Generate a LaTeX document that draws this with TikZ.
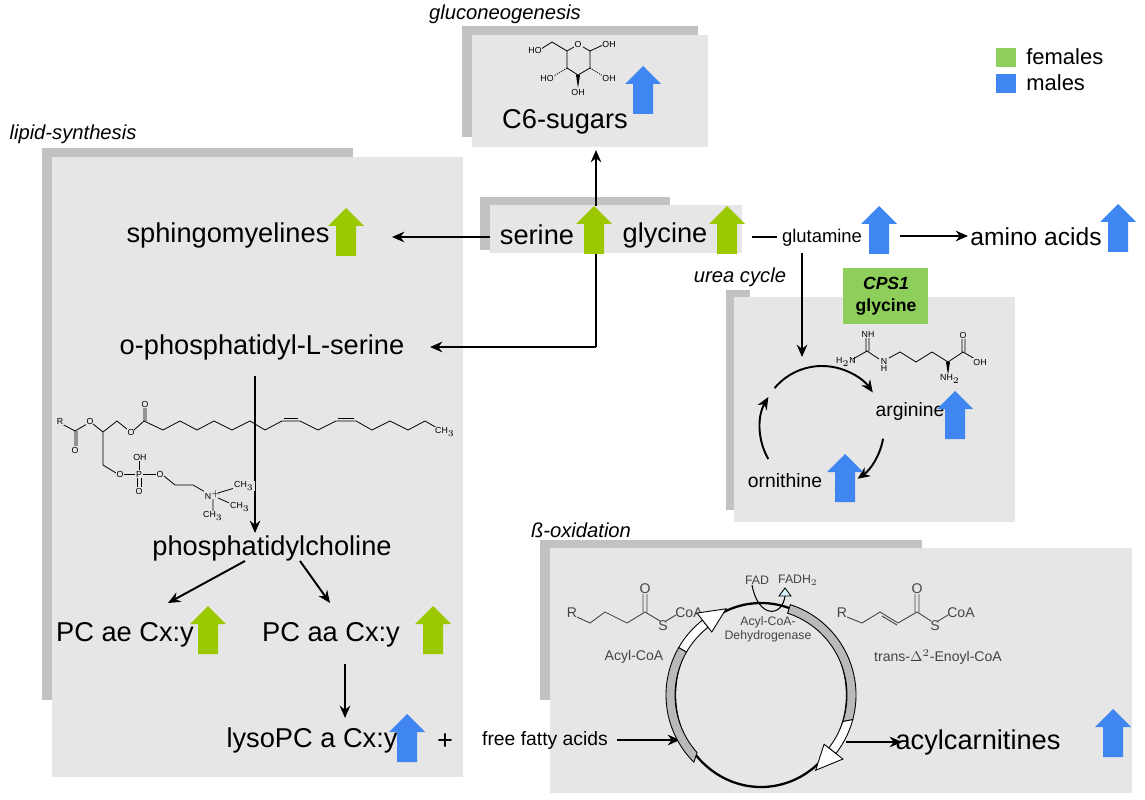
\documentclass[tikz,border=0pt]{standalone}
\usepackage{fontspec}
\setmainfont{Liberation Sans}
\usetikzlibrary{arrows.meta}
\definecolor{bx}{HTML}{E6E6E6}
\definecolor{sh}{HTML}{9A9A9A}
\definecolor{gA}{HTML}{9CC800}
\definecolor{bA}{HTML}{3F86F2}
\definecolor{lg}{HTML}{8DCF5A}
\definecolor{mg}{HTML}{444444}
\tikzset{
 big/.style={font=\fontsize{15.5}{17}\selectfont,inner sep=0pt},
 mid/.style={font=\fontsize{11}{13}\selectfont,inner sep=0pt},
 lab/.style={font=\fontsize{11.5}{13}\selectfont\itshape,inner sep=0pt},
 mol/.style={font=\fontsize{5}{6}\selectfont,inner sep=0.5pt,fill=bx},
 bmol/.style={font=\fontsize{8}{9}\selectfont,inner sep=0.5pt,text=mg},
 bond/.style={line width=0.45pt},
 gbond/.style={line width=0.5pt,draw=mg},
 conn/.style={line width=1.1pt,-{Stealth[length=7pt,width=6pt]}},
 pl/.style={line width=1.1pt},
 box/.style={fill=bx},
 shadow/.style={fill=sh,opacity=0.6},
 band/.style={line width=0.5pt,fill=gray!55},
 hollow/.style={line width=0.5pt,fill=white},
 uparr/.pic={\fill[#1] (-10,24)--(-10,-6)--(-18,-6)--(0,-24)--(18,-6)--(10,-6)--(10,24)--cycle;}
}
\begin{document}
\begin{tikzpicture}[x=0.02cm,y=-0.02cm]
\useasboundingbox (0,0) rectangle (1145,800);
% ----- boxes with shadows
\fill[shadow] (462,26) rectangle (698,137);
\fill[box] (472,35) rectangle (708,147);
\fill[shadow] (42,148) rectangle (353,700);
\fill[box] (52,157) rectangle (463,777);
\fill[shadow] (480,197) rectangle (670,250);
\fill[box] (490,205) rectangle (742,253);
\fill[shadow] (726,290) rectangle (750,510);
\fill[box] (734,297) rectangle (1015,522);
\fill[shadow] (540,540) rectangle (922,700);
\fill[box] (550,548) rectangle (1132,793);
% ----- labels
\node[lab] (lgn) at (505,14) {gluconeogenesis};
\node[lab] (lls) at (73,134) {lipid-synthesis};
\node[lab] (luc) at (740,277) {urea cycle};
\node[lab] (lbo) at (581,530) {ß-oxidation};
% ----- legend
\fill[lg] (996,48) rectangle (1016,67);
\fill[bA] (996,74) rectangle (1016,93);
\node[font=\fontsize{12.5}{14}\selectfont,anchor=west,inner sep=0pt] (lf) at (1026,57) {females};
\node[font=\fontsize{12.5}{14}\selectfont,anchor=west,inner sep=0pt] (lm) at (1026,83) {males};
% ----- glucose
\draw[bond] (552,42)--(567,51)--(574,47) (583,47)--(590,51)--(590,68)--(578,75)--(567,68)--(567,51);
\node[mol] (gO) at (578,44) {O};
\draw[bond] (552,42)--(541,49);
\node[mol] (gHO1) at (535,50) {HO};
\draw[bond] (590,51)--(603,45);
\node[mol] (gOH1) at (609,44) {OH};
\draw[bond,dash pattern=on 0.6pt off 0.6pt] (590,68)--(603,76);
\node[mol] (gOH2) at (609,78) {OH};
\fill (576,75)--(580,75)--(578,88)--cycle;
\node[mol] (gOH3) at (578,92) {OH};
\draw[bond,dash pattern=on 0.6pt off 0.6pt] (567,68)--(554,76);
\node[mol] (gHO2) at (547,78) {HO};
% ----- nodes
\node[big] (c6) at (565,122) {C6-sugars};
\pic at (643,90) {uparr=bA};
\node[big] (sph) at (228,235) {sphingomyelines};
\pic at (346,232) {uparr=gA};
\node[big] (ser) at (537,235) {serine};
\node[big] (gly) at (665,235) {glycine};
\node[font=\fontsize{10.5}{12}\selectfont,inner sep=0pt] (glu) at (822,238) {glutamine};
\pic at (879,230) {uparr=bA};
\node[big,font=\fontsize{14}{16}\selectfont] (aa) at (1036,237) {amino acids};
\pic at (1118,228) {uparr=bA};
\node[big] (ops) at (262,347) {o-phosphatidyl-L-serine};
\node[big] (pc) at (272,548) {phosphatidylcholine};
\node[big] (pcae) at (125,635) {PC ae Cx:y};
\pic at (208,630) {uparr=gA};
\node[big] (pcaa) at (331,635) {PC aa Cx:y};
\pic at (433,630) {uparr=gA};
\node[big] (lyso) at (312,740) {lysoPC a Cx:y};
\pic at (407,738) {uparr=bA};
\node[big] (plus) at (445,742) {+};
\node[mid] (ffa) at (545,740) {free fatty acids};
\node[big] (acyl) at (978,742) {acylcarnitines};
\pic at (1113,733) {uparr=bA};
% CPS1 box
\fill[lg] (843,268) rectangle (928,324);
\node[font=\fontsize{10}{12.5}\selectfont\bfseries,align=center,inner sep=0pt] (cpst) at (886,296) {\textit{CPS1}\\glycine};
% ----- connectors
\coordinate (sTop) at (596,206);
\coordinate (sBot) at (596,253);
\coordinate (sLeft) at (490,237);
\coordinate (sphE) at (392,237);
\coordinate (c6S) at (596,150);
\coordinate (bend) at (596,347);
\coordinate (opsE) at (430,347);
\coordinate (gR) at (752,237);
\coordinate (gR2) at (777,237);
\coordinate (glR) at (900,236);
\coordinate (aaW) at (968,236);
\coordinate (gdn) at (802,253);
\coordinate (arrTop) at (802,357);
\coordinate (opsB) at (255,376);
\coordinate (pcT) at (255,533);
\coordinate (pcL) at (245,561);
\coordinate (pcR) at (300,561);
\coordinate (aeT) at (168,603);
\coordinate (aaT) at (330,603);
\coordinate (paB) at (345,664);
\coordinate (lyT) at (345,718);
\coordinate (ffE) at (617,740);
\coordinate (cyW) at (680,740);
\coordinate (cyE) at (846,742);
\coordinate (acW) at (902,742);
\draw[conn] (sTop) -- (c6S);
\draw[conn] (sLeft) -- (sphE);
\draw[pl] (sBot) -- (bend);
\draw[conn] (bend) -- (opsE);
\draw[pl] (gR) -- (gR2);
\draw[conn] (glR) -- (aaW);
\draw[conn] (gdn) -- (arrTop);
\draw[conn] (opsB) -- (pcT);
\draw[conn] (pcL) -- (aeT);
\draw[conn] (pcR) -- (aaT);
\draw[conn] (paB) -- (lyT);
\draw[conn] (ffE) -- (cyW);
\draw[conn] (cyE) -- (acW);
% ----- serine glycine arrows (on top)
\pic at (594,230) {uparr=gA};
\pic at (727,230) {uparr=gA};
% ----- lipid structure
\draw[bond] (62,424)--(75,431)--(87,424) (75,431)--(75,447) (77,431)--(77,447);
\node[mol] (lR) at (60,421) {R};
\node[mol] (lO1) at (75,450) {O};
\node[mol] (lO2) at (90,421) {O};
\draw[bond] (93,424)--(103,432)--(117,421)--(128,430) (103,432)--(103,465)--(116,473);
\node[mol] (lO3) at (131,432) {O};
\draw[bond] (134,430)--(144,421)--(144,406) (146,421)--(146,406);
\node[mol] (lO4) at (145,404) {O};
\draw[bond] (144,421)--(163,430)--(180,421)--(197,430)--(214,421)--(232,430)--(250,421)--(265,430)--(282,421)--(300,421)--(318,430)--(336,421)--(356,421)--(372,430)--(390,421)--(408,430)--(425,421)--(437,428);
\draw[bond] (284,418)--(298,418) (338,418)--(354,418);
\draw[pl] (255,376) -- (255,430);
\node[mol] (lCH3) at (445,432) {CH$_3$};
\node[mol] (lO5) at (120,474) {O};
\draw[bond] (124,474)--(135,474) (142,474)--(156,474) (139,470)--(139,461) (137,478)--(137,488) (141,478)--(141,488);
\node[mol] (lP) at (139,474) {P};
\node[mol] (lOH) at (140,457) {OH};
\node[mol] (lO6) at (139,491) {O};
\node[mol] (lO7) at (160,474) {O};
\draw[bond] (164,476)--(175,485)--(193,485)--(207,493);
\node[mol] (lN) at (213,495) {N$^+$};
\draw[bond] (218,493)--(238,487) (218,498)--(234,505) (213,499)--(213,512);
\node[mol] (lC1) at (244,486) {CH$_3$};
\node[mol] (lC2) at (240,507) {CH$_3$};
\node[mol] (lC3) at (213,516) {CH$_3$};
% ----- arginine
\node[mol] (aH2N) at (846,362) {H$_2$N};
\draw[bond] (853,359)--(867,351)--(879,359) (866,351)--(866,337) (869,351)--(869,337);
\node[mol] (aNH) at (868,334) {NH};
\node[mol] (aN) at (884,361) {N};
\node[mol] (aH) at (884,368) {H};
\draw[bond] (889,358)--(900,352)--(916,362)--(932,352)--(948,362)--(963,352)--(975,359) (962,352)--(962,338) (965,352)--(965,338);
\fill (946,362)--(950,362)--(948,375)--cycle;
\node[mol] (aNH2) at (950,379) {NH$_2$};
\node[mol] (aO) at (963,335) {O};
\node[mol] (aOH) at (980,362) {OH};
% ----- urea cycle (tikz angles = -screen angles)
\begin{scope}[shift={(822,428)}]
\draw[pl,-{Stealth[length=7pt,width=6pt]}] (-210:62) arc[start angle=-210,end angle=-150,radius=62];
\draw[pl,-{Stealth[length=7pt,width=6pt]}] (-140:62) arc[start angle=-140,end angle=-35,radius=62];
\draw[pl,-{Stealth[length=7pt,width=6pt]}] (10:62) arc[start angle=10,end angle=55,radius=62];
\draw[pl] (62:62) arc[start angle=62,end angle=78,radius=62];
\end{scope}
\node[mid] (arg) at (910,412) {arginine};
\pic at (955,415) {uparr=bA};
\node[mid] (orn) at (785,481) {ornithine};
\pic at (845,478) {uparr=bA};
% ----- beta oxidation structures
\node[bmol] (bR1) at (572,613) {R};
\draw[gbond] (577,617)--(590,623)--(605,612)--(627,623)--(645,612)--(660,621) (643,612)--(643,594) (647,612)--(647,594) (666,621)--(676,615);
\node[bmol] (bO1) at (645,589) {O};
\node[bmol] (bS1) at (663,626) {S};
\node[bmol] (bCoA1) at (689,613) {CoA};
\node[bmol] (bAc) at (634,657) {Acyl-CoA};
\node[bmol] (bR2) at (842,613) {R};
\draw[gbond] (847,617)--(862,623)--(880,612)--(898,623)--(917,612)--(931,621) (882,616)--(897,625) (915,612)--(915,594) (919,612)--(919,594) (938,621)--(948,615);
\node[bmol] (bO2) at (917,589) {O};
\node[bmol] (bS2) at (935,626) {S};
\node[bmol] (bCoA2) at (961,613) {CoA};
\node[bmol] (bEn) at (938,657) {trans-$\Delta^2$-Enoyl-CoA};
\node[font=\fontsize{7}{8}\selectfont,text=mg,align=center,inner sep=0pt] (bDH) at (768,629) {Acyl-CoA-\\Dehydrogenase};
\node[bmol,font=\fontsize{7}{8}\selectfont] (bFAD) at (757,580) {FAD};
\node[bmol,font=\fontsize{7}{8}\selectfont] (bFADH) at (798,580) {FADH$_2$};
% cycle
\begin{scope}[shift={(761,695)}]
\draw[line width=1.3pt] (0,0) circle[x radius=86,y radius=92];
\draw[band] (-150:95) arc[start angle=-150,end angle=-225,radius=95] -- (-222:86) arc[start angle=-222,end angle=-150,radius=86] -- cycle;
\draw[hollow] (-128:86) arc[start angle=-128,end angle=-150,radius=86] -- (-150:95) arc[start angle=-150,end angle=-128,radius=95] -- cycle;
\draw[hollow] (-128:80) -- (-128:104) -- (-112:93) -- cycle;
\draw[band] (-72:95) arc[start angle=-72,end angle=15,radius=95] -- (18:86) arc[start angle=18,end angle=-72,radius=86] -- cycle;
\draw[hollow] (15:95) arc[start angle=15,end angle=38,radius=95] -- (38:86) arc[start angle=38,end angle=18,radius=86] -- cycle;
\draw[hollow] (38:80) -- (38:104) -- (54:93) -- cycle;
\end{scope}
\draw[line width=0.6pt] (752,585) .. controls (758,618) and (782,618) .. (785,596);
\draw[line width=0.5pt,fill=cyan!15] (779,596) -- (791,596) -- (785,588) -- cycle;
\end{tikzpicture}
\end{document}
